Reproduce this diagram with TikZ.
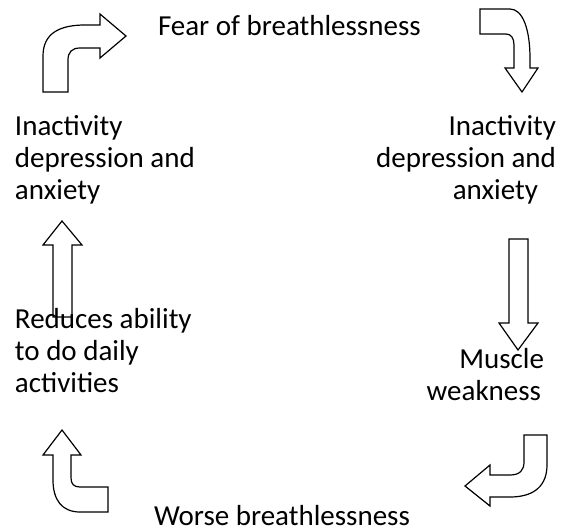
\documentclass[tikz,border=0pt]{standalone}
\usepackage{fontspec}
\setmainfont{Carlito}
\begin{document}
\begin{tikzpicture}[x=1pt,y=-1pt,
  blockarrow/.style={draw=black,line width=1.2pt,line join=miter,fill=white},
  lbl/.style={inner sep=0pt,outer sep=0pt,font=\fontsize{29}{32}\selectfont}]
\useasboundingbox (0,0) rectangle (563,531);
% top-left bent arrow
\path[blockarrow] (43,92) -- (43,56) .. controls (43,33) and (60,25) .. (85,25) -- (100,25) -- (100,14) -- (126,36) -- (100,58) -- (100,48) -- (80,48) .. controls (72,48) and (68,52) .. (68,60) -- (68,92) -- cycle;
% top-right bent arrow
\path[blockarrow] (480,9) -- (510,9) .. controls (523,9) and (530,30) .. (530,58) -- (530,68) -- (538,68) -- (522,92) -- (505,68) -- (514,68) -- (514,45) .. controls (514,38) and (511,34) .. (506,34) -- (480,34) -- cycle;
% right down arrow
\path[blockarrow] (509,239) -- (528,239) -- (528,323) -- (538,323) -- (518,350) -- (499,323) -- (509,323) -- cycle;
% bottom-right bent arrow
\path[blockarrow] (524,435) -- (547,435) -- (547,465) .. controls (547,485) and (535,497) .. (510,497) -- (490,497) -- (490,506) -- (465,486) -- (490,465) -- (490,475) -- (510,475) .. controls (520,475) and (524,470) .. (524,462) -- cycle;
% bottom-left bent arrow
\path[blockarrow] (53,455) -- (53,480) .. controls (53,500) and (62,512) .. (80,512) -- (108,512) -- (108,487) -- (80,487) .. controls (74,487) and (71,484) .. (71,478) -- (71,455) -- (81,455) -- (62,430) -- (43,455) -- cycle;
% left up arrow
\path[blockarrow] (53,317) -- (53,245) -- (43,245) -- (62,221) -- (82,245) -- (72,245) -- (72,317) -- cycle;
% labels (base anchor = baseline of the last line)
\node[lbl,anchor=base west] (fear) at (158,35) {Fear of breathlessness};
\node[lbl,anchor=base west,align=left] (inactl) at (15,199) {Inactivity\\depression and\\anxiety};
\node[lbl,anchor=base east,align=right] (inactr) at (556,199) {Inactivity\\depression and\\anxiety\hspace*{18pt}};
\node[lbl,anchor=base west,align=left] (reduce) at (15,392) {Reduces ability\\to do daily\\activities};
\node[lbl,anchor=base east,align=right] (muscle) at (544,400) {Muscle\\weakness\hspace*{3pt}};
\node[lbl,anchor=base west] (worse) at (154,525) {Worse breathlessness};
\end{tikzpicture}
\end{document}
